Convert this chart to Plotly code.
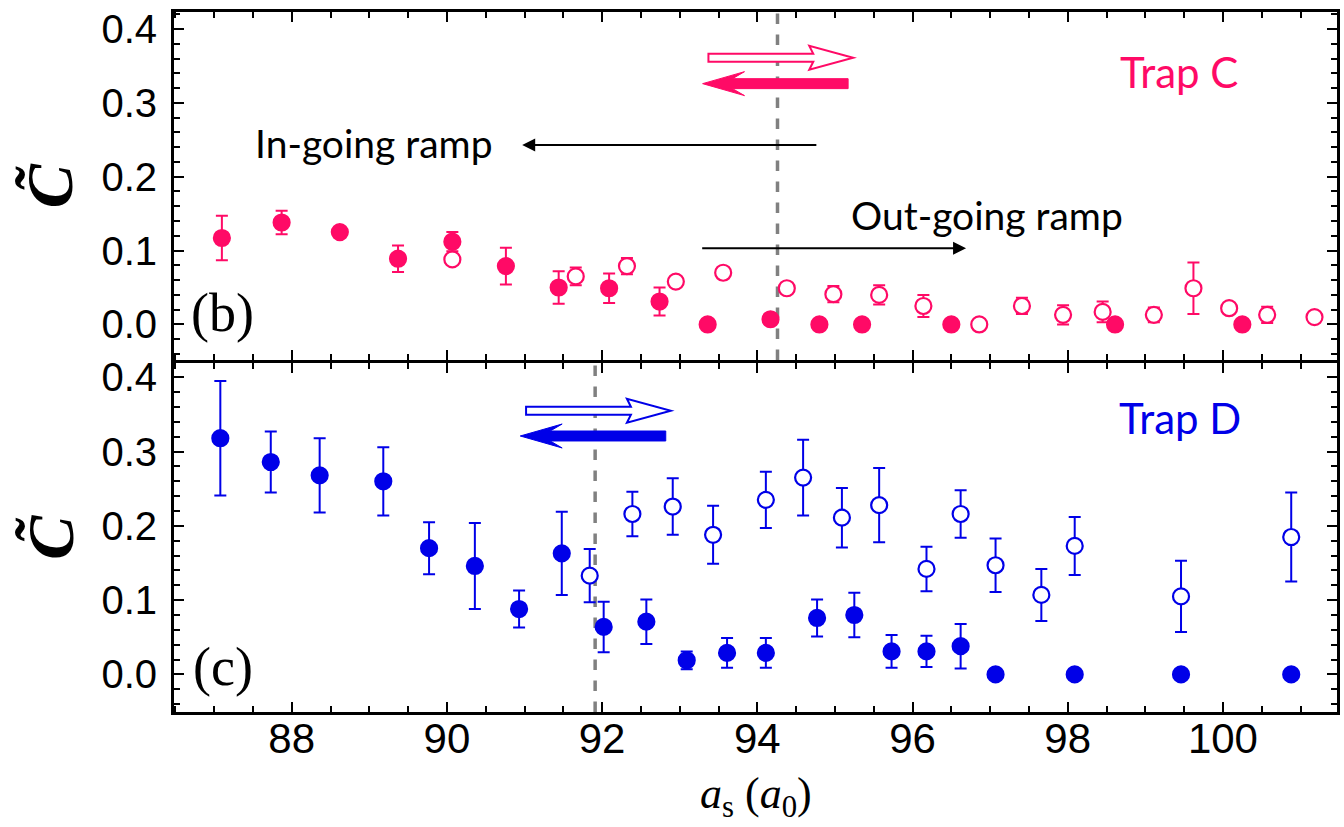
import plotly.graph_objects as go

# ---- Trap C: filled = in-going ramp, open = out-going ramp ----
xc_in = [87.10, 87.87, 88.62, 89.37, 90.07, 90.76, 91.44, 92.09, 92.74, 93.36,
         94.17, 94.80, 95.35, 96.50, 98.61, 100.25]
yc_in = [0.117, 0.138, 0.125, 0.089, 0.112, 0.079, 0.050, 0.049, 0.031, 0.0,
         0.007, 0.0, 0.0, 0.0, 0.0, 0.0]
ec_in = [0.030, 0.016, 0.006, 0.018, 0.013, 0.025, 0.022, 0.020, 0.019, 0.0,
         0.0, 0.0, 0.0, 0.0, 0.0, 0.0]

xc_out = [90.07, 91.66, 92.32, 92.95, 93.56, 94.38, 94.98, 95.57, 96.14, 96.86,
          97.41, 97.94, 98.45, 99.11, 99.62, 100.08, 100.57, 101.18]
yc_out = [0.088, 0.065, 0.079, 0.058, 0.070, 0.049, 0.041, 0.040, 0.025, 0.0,
          0.025, 0.013, 0.017, 0.013, 0.049, 0.022, 0.013, 0.010]
ec_out = [0.0, 0.012, 0.011, 0.0, 0.0, 0.0, 0.011, 0.013, 0.015, 0.0,
          0.011, 0.013, 0.014, 0.010, 0.035, 0.0, 0.011, 0.0]

# ---- Trap D ----
xd_in = [87.08, 87.73, 88.36, 89.18, 89.77, 90.36, 90.93, 91.48, 92.02, 92.57,
         93.09, 93.61, 94.11, 94.77, 95.25, 95.73, 96.18, 96.62, 97.07, 98.09,
         99.46, 100.88]
yd_in = [0.318, 0.286, 0.268, 0.260, 0.170, 0.146, 0.088, 0.163, 0.064, 0.071,
         0.019, 0.029, 0.029, 0.076, 0.080, 0.031, 0.031, 0.038, 0.0, 0.0,
         0.0, 0.0]
ed_in = [0.077, 0.041, 0.050, 0.046, 0.035, 0.058, 0.025, 0.056, 0.034, 0.030,
         0.012, 0.020, 0.020, 0.025, 0.030, 0.022, 0.021, 0.030, 0.0, 0.0,
         0.0, 0.0]

xd_out = [91.84, 92.39, 92.91, 93.43, 94.11, 94.59, 95.09, 95.57, 96.18, 96.62,
          97.07, 97.66, 98.09, 99.46, 100.88]
yd_out = [0.133, 0.216, 0.226, 0.188, 0.235, 0.265, 0.211, 0.228, 0.142, 0.216,
          0.147, 0.107, 0.173, 0.105, 0.185]
ed_out = [0.036, 0.030, 0.038, 0.039, 0.038, 0.051, 0.040, 0.050, 0.030, 0.032,
          0.036, 0.035, 0.039, 0.048, 0.060]

# transition positions (dashed lines)
x_trans_c = 94.26
x_trans_d = 91.91

PINK = "#ff0a66"
BLUE = "#0000e8"
GREY = "#808080"

W, H = 1344, 827
M_L, M_R, M_T, M_B = 174, 4, 10, 115
X_RANGE = [86.483, 101.47]
Y_RANGE_C = [-0.048, 0.423]
Y_RANGE_D = [-0.0506, 0.4192]
DOM_C = [0.503, 1.0]
DOM_D = [0.0, 0.4985]

plot_w = W - M_L - M_R
plot_h = H - M_T - M_B
x_per_px = (X_RANGE[1] - X_RANGE[0]) / plot_w


def y_per_px(yr, dom):
    return (yr[1] - yr[0]) / (plot_h * (dom[1] - dom[0]))


def open_arrow(x0, x1, yc, ypp, shaft=4, head_len=40, head_half=12):
    """Outlined arrow pointing right from x0 to x1 at height yc."""
    hb = x1 - head_len * x_per_px
    s = shaft * ypp
    h = head_half * ypp
    return (f"M {x0},{yc - s} L {hb},{yc - s} L {hb - 4 * x_per_px},{yc - h} "
            f"L {x1},{yc} L {hb - 4 * x_per_px},{yc + h} L {hb},{yc + s} "
            f"L {x0},{yc + s} Z")


def solid_arrow(x_tail, x_tip, yc, ypp, shaft=5, head_len=42, head_half=12):
    """Solid arrow pointing left from x_tail to x_tip at height yc."""
    hb = x_tip + head_len * x_per_px
    notch = x_tip + (head_len - 12) * x_per_px
    s = shaft * ypp
    h = head_half * ypp
    return (f"M {x_tip},{yc} L {hb},{yc + h} L {notch},{yc + s} "
            f"L {x_tail},{yc + s} L {x_tail},{yc - s} L {notch},{yc - s} "
            f"L {hb},{yc - h} Z")


fig = go.Figure()


def add_series(x, y, e, color, filled, xa, ya):
    fig.add_trace(go.Scatter(
        x=x, y=y, mode="markers", xaxis=xa, yaxis=ya, showlegend=False,
        error_y=dict(type="data", array=e, visible=True, color=color,
                     thickness=2, width=6),
        marker=dict(symbol="circle", size=16,
                    color=color if filled else "white",
                    line=dict(color=color, width=2.2)),
    ))


add_series(xc_out, yc_out, ec_out, PINK, False, "x", "y")
add_series(xc_in, yc_in, ec_in, PINK, True, "x", "y")
add_series(xd_out, yd_out, ed_out, BLUE, False, "x2", "y2")
add_series(xd_in, yd_in, ed_in, BLUE, True, "x2", "y2")

shapes = []
# dashed transition lines
shapes.append(dict(type="line", xref="x", yref="y domain", x0=x_trans_c, x1=x_trans_c,
                   y0=0, y1=1, line=dict(color=GREY, width=3.5, dash="dash"), layer="below"))
shapes.append(dict(type="line", xref="x2", yref="y2 domain", x0=x_trans_d, x1=x_trans_d,
                   y0=0, y1=1, line=dict(color=GREY, width=3.5, dash="dash"), layer="below"))

# black ramp arrows (tail x, head x, height)
ramp_arrows = [
    (94.78, 90.97, 0.243),
    (93.27, 96.69, 0.103),
]

# ramp direction arrows near each transition
for xt, yref, xref, yr, dom, col, y_open, y_solid in [
        (x_trans_c, "y", "x", Y_RANGE_C, DOM_C, PINK, 0.361, 0.326),
        (x_trans_d, "y2", "x2", Y_RANGE_D, DOM_D, BLUE, 0.355, 0.321)]:
    ypp = y_per_px(yr, dom)
    shapes.append(dict(type="path", xref=xref, yref=yref,
                       path=open_arrow(xt - 0.89, xt + 0.975, y_open, ypp),
                       fillcolor="white", line=dict(color=col, width=2)))
    shapes.append(dict(type="path", xref=xref, yref=yref,
                       path=solid_arrow(xt + 0.91, xt - 0.965, y_solid, ypp),
                       fillcolor=col, line=dict(color=col, width=1)))

annotations = []
TXT_FONT = "Lato"
for x_tail, x_head, ya in ramp_arrows:
    annotations.append(dict(x=x_head, y=ya, ax=x_tail, ay=ya, xref="x", yref="y",
                            axref="x", ayref="y", text="", showarrow=True,
                            arrowhead=2, arrowsize=1.3, arrowwidth=2, arrowcolor="black"))
annotations.append(dict(x=89.06, y=0.245, xref="x", yref="y", text="In-going ramp",
                        showarrow=False, font=dict(family=TXT_FONT, size=39, color="black")))
annotations.append(dict(x=96.96, y=0.148, xref="x", yref="y", text="Out-going ramp",
                        showarrow=False, font=dict(family=TXT_FONT, size=39, color="black")))
annotations.append(dict(x=99.44, y=0.342, xref="x", yref="y", text="Trap C",
                        showarrow=False, font=dict(family=TXT_FONT, size=42, color=PINK)))
annotations.append(dict(x=99.45, y=0.345, xref="x2", yref="y2", text="Trap D",
                        showarrow=False, font=dict(family=TXT_FONT, size=42, color=BLUE)))
# panel letters
annotations.append(dict(x=87.11, y=0.016, xref="x", yref="y", text="(b)",
                        showarrow=False, font=dict(family="Liberation Serif", size=54, color="black")))
annotations.append(dict(x=87.11, y=0.010, xref="x2", yref="y2", text="(c)",
                        showarrow=False, font=dict(family="Liberation Serif", size=54, color="black")))
# y-axis titles
for dom in (DOM_C, DOM_D):
    annotations.append(dict(x=(50 - M_L) / plot_w, y=(dom[0] + dom[1]) / 2,
                            xref="paper", yref="paper", text="<b><i>C\u0303</i></b>",
                            textangle=-90, showarrow=False, xanchor="center", yanchor="middle",
                            font=dict(family="Liberation Serif", size=66, color="black")))
# x-axis title
annotations.append(dict(x=(758 - M_L) / plot_w, y=(M_T + plot_h - 797) / plot_h,
                        xref="paper", yref="paper",
                        text="<i>a</i><sub>s</sub> (<i>a</i><sub>0</sub>)",
                        showarrow=False, xanchor="center", yanchor="middle",
                        font=dict(family="Liberation Serif", size=44, color="black")))

x_common = dict(range=X_RANGE, tick0=88, dtick=2, ticks="inside", ticklen=10,
                tickwidth=2, tickcolor="black", showline=True, linewidth=3,
                linecolor="black", mirror="allticks", showgrid=False, zeroline=False,
                minor=dict(dtick=0.5, tick0=88, ticks="inside", ticklen=6,
                           tickwidth=2, tickcolor="black", showgrid=False))
y_common = dict(tick0=0, dtick=0.1, tickformat=".1f", ticks="inside", ticklen=10,
                tickwidth=2, tickcolor="black", showline=True, linewidth=3,
                linecolor="black", mirror="allticks", showgrid=False, zeroline=False,
                tickfont=dict(family="Liberation Sans", size=40, color="black"),
                ticklabelstandoff=6,
                minor=dict(dtick=0.02, tick0=0, ticks="inside", ticklen=6,
                           tickwidth=2, tickcolor="black", showgrid=False))

fig.update_layout(
    width=W, height=H,
    margin=dict(l=M_L, r=M_R, t=M_T, b=M_B),
    paper_bgcolor="white", plot_bgcolor="white",
    xaxis=dict(**x_common, anchor="y", showticklabels=False, matches="x2"),
    xaxis2=dict(**x_common, anchor="y2", showticklabels=True,
                tickfont=dict(family="Liberation Sans", size=42, color="black"),
                ticklabelstandoff=-12),
    yaxis=dict(**y_common, domain=DOM_C, range=Y_RANGE_C, anchor="x"),
    yaxis2=dict(**y_common, domain=DOM_D, range=Y_RANGE_D, anchor="x2"),
    shapes=shapes,
    annotations=annotations,
)

fig.write_html("out.html")
